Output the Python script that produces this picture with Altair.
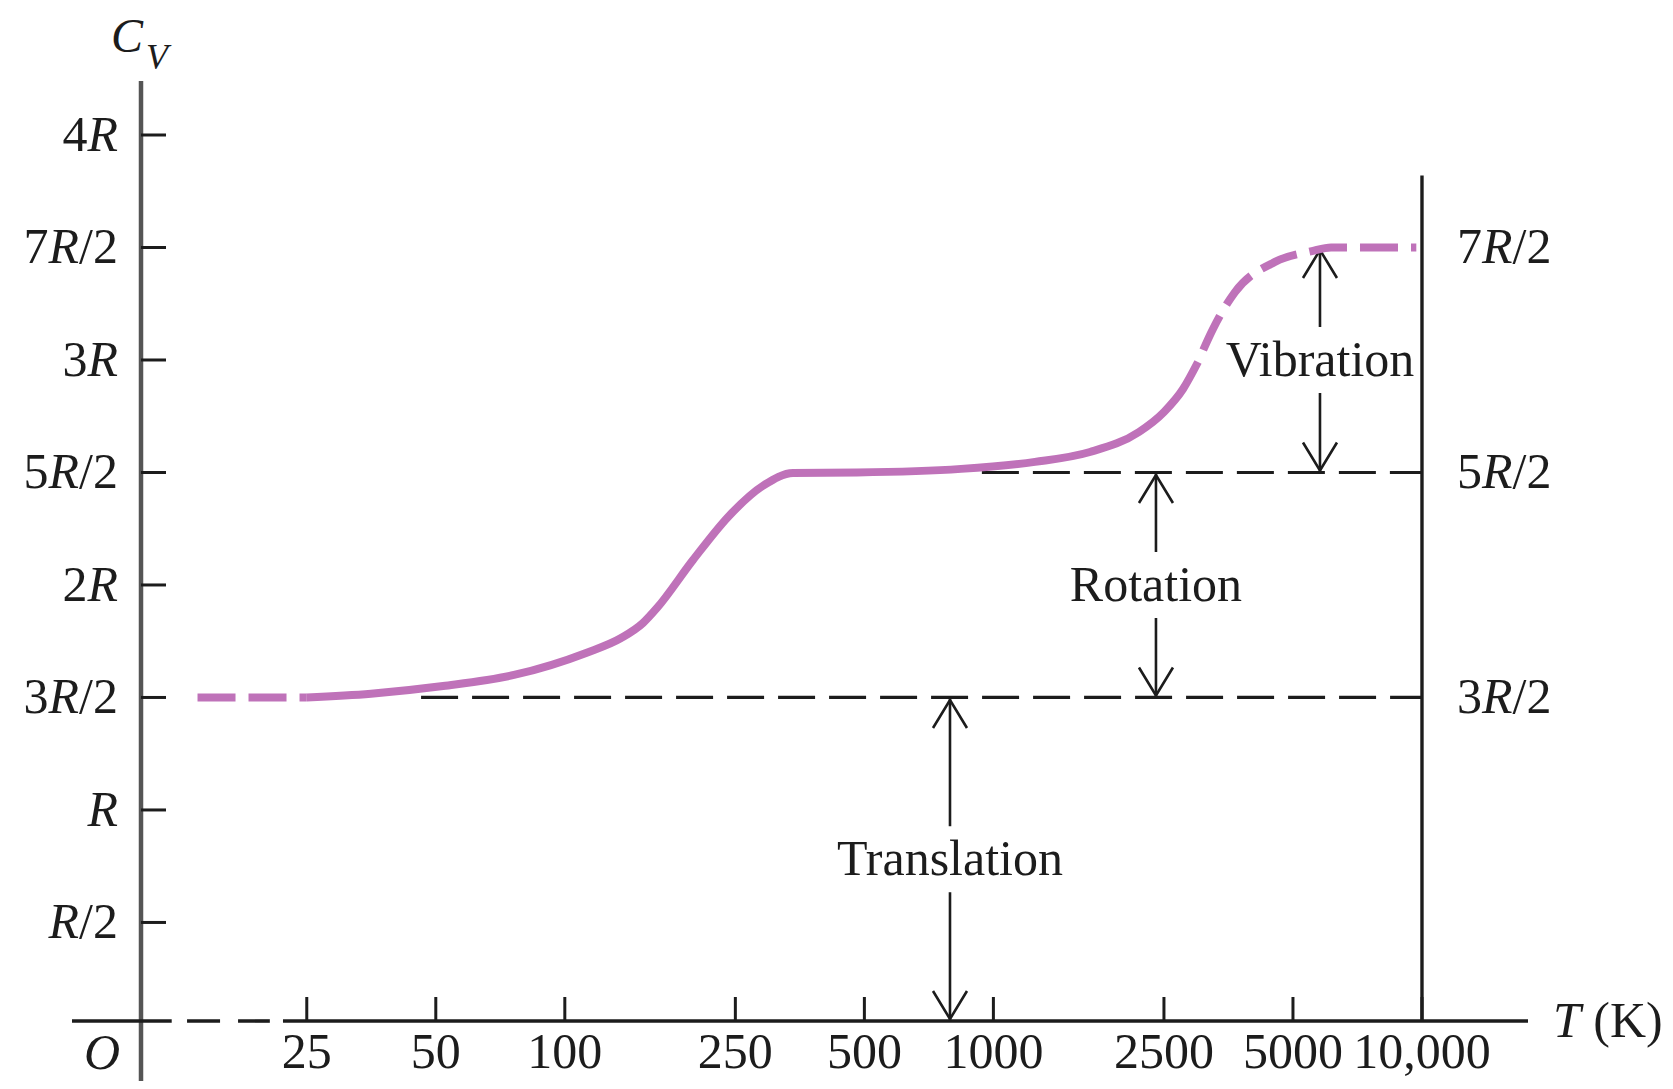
import altair as alt
import pandas as pd

# ---------------- data ----------------
# Heat capacity curve C_V (in units of R) vs temperature T (K)
T_LOW = [13.9, 25.0]                      # dashed extrapolation, low T
CV_LOW = [1.5, 1.5]
T_MID = [25.0, 35.3, 52.0, 76.1, 112.1, 135.3, 152.2, 164.1, 199.1, 241.6,
         291.6, 340.8, 480.6, 840.4, 1250.0, 1680.0, 2186.0, 2501.0, 2770.0, 3002.0]
CV_MID = [1.5, 1.517, 1.551, 1.6, 1.698, 1.764, 1.831, 1.898, 2.111, 2.307,
          2.444, 2.498, 2.5, 2.516, 2.547, 2.591, 2.68, 2.769, 2.871, 2.991]
T_HIGH = [3002.0, 3253.0, 3662.0, 4540.0, 5538.0, 6135.0, 9700.0]   # dashed, high T
CV_HIGH = [2.991, 3.138, 3.302, 3.436, 3.484, 3.5, 3.5]

X_TICKS = [25, 50, 100, 250, 500, 1000, 2500, 5000, 10000]
X_TICK_LABELS = ["25", "50", "100", "250", "500", "1000", "2500", "5000", "10,000"]
Y_TICKS = [0.5, 1.0, 1.5, 2.0, 2.5, 3.0, 3.5, 4.0]
Y_TICK_LABELS = ["R/2", "R", "3R/2", "2R", "5R/2", "3R", "7R/2", "4R"]
RIGHT_TICKS = [1.5, 2.5, 3.5]
RIGHT_TICK_LABELS = ["3R/2", "5R/2", "7R/2"]

REF_LEVELS = [1.5, 2.5]
REF_FROM_T = [46.2, 940.0]
REF_TO_T = [10000, 10000]

ARROW_LABELS = ["Translation", "Rotation", "Vibration"]
ARROW_T = [792, 2395, 5781]
ARROW_LO = [0.062, 1.5, 2.5]
ARROW_HI = [1.5, 2.5, 3.5]

T_MIN, T_MAX = 10.26, 17675       # extent of the temperature axis
CV_MIN, CV_MAX = 0.062, 4.24      # x-axis sits at CV_MIN
RIGHT_AXIS_T = 10000
RIGHT_AXIS_TOP = 3.82
BREAK_T = [12.1, 13.14, 20.5, 22.0]   # axis break: solid end, dash start, dash end, solid start

# ---------------- style / layout ----------------
INK = "#1c1c1c"
AXIS_GRAY = "#555555"
PURPLE = "#bf72b9"
FONT = "Liberation Serif"
FS = 50
W, H = 1387, 940
PAD = {"left": 133, "top": 73, "right": 137, "bottom": 60}

xscale = alt.Scale(type="log", domain=[T_MIN, T_MAX], nice=False)
yscale = alt.Scale(domain=[CV_MIN, CV_MAX], nice=False, zero=False)


def X(f):
    return alt.X(f"{f}:Q", scale=xscale, axis=None)


def X2(f):
    return alt.X2(f"{f}:Q")


def Y(f):
    return alt.Y(f"{f}:Q", scale=yscale, axis=None)


def Y2(f):
    return alt.Y2(f"{f}:Q")


# ---------------- curve ----------------
line_kw = dict(color=PURPLE, strokeWidth=8, interpolate="monotone", strokeCap="butt")
curve_low = alt.Chart(pd.DataFrame({"T": T_LOW, "cv": CV_LOW})).mark_line(
    strokeDash=[38, 13], **line_kw).encode(x=X("T"), y=Y("cv"))
curve_mid = alt.Chart(pd.DataFrame({"T": T_MID, "cv": CV_MID})).mark_line(
    **line_kw).encode(x=X("T"), y=Y("cv"))
curve_high = alt.Chart(pd.DataFrame({"T": T_HIGH, "cv": CV_HIGH})).mark_line(
    strokeDash=[38, 13], strokeDashOffset=38, **line_kw).encode(x=X("T"), y=Y("cv"))

# ---------------- reference dashed lines ----------------
ref_df = pd.DataFrame({"lvl": REF_LEVELS, "t0": REF_FROM_T, "t1": REF_TO_T})
refs = alt.Chart(ref_df).mark_rule(color=INK, strokeWidth=3.2, strokeDash=[37, 14]).encode(
    x=X("t0"), x2=X2("t1"), y=Y("lvl"))

# ---------------- axes ----------------
one = pd.DataFrame({"k": [0]})
left_axis = alt.Chart(one).mark_rule(color=AXIS_GRAY, strokeWidth=4.5).encode(
    x=alt.value(0), y=alt.value(0), y2=alt.value(H + PAD["bottom"]))
left_ticks = alt.Chart(pd.DataFrame({"v": Y_TICKS})).mark_rule(color=INK, strokeWidth=3).encode(
    y=Y("v"), x=alt.value(0), x2=alt.value(25))

xa_left = alt.Chart(pd.DataFrame({"t0": [T_MIN], "t1": [BREAK_T[0]]})).mark_rule(
    color=INK, strokeWidth=3.6, xOffset=-69).encode(x=X("t0"), x2=X2("t1"), y=alt.value(H))
xa_dash = alt.Chart(pd.DataFrame({"t0": [BREAK_T[1]], "t1": [BREAK_T[2]]})).mark_rule(
    color=INK, strokeWidth=3.6, strokeDash=[33, 18]).encode(x=X("t0"), x2=X2("t1"), y=alt.value(H))
xa_right = alt.Chart(pd.DataFrame({"t0": [BREAK_T[3]], "t1": [T_MAX]})).mark_rule(
    color=INK, strokeWidth=3.6).encode(x=X("t0"), x2=X2("t1"), y=alt.value(H))
x_ticks = alt.Chart(pd.DataFrame({"t": X_TICKS})).mark_rule(color=INK, strokeWidth=3).encode(
    x=X("t"), y=alt.value(H), y2=alt.value(H - 24))
right_axis = alt.Chart(pd.DataFrame({"t": [RIGHT_AXIS_T], "top": [RIGHT_AXIS_TOP], "bot": [CV_MIN]})).mark_rule(
    color=INK, strokeWidth=3.4).encode(x=X("t"), y=Y("top"), y2=Y2("bot"))

# ---------------- arrows ----------------
arr_df = pd.DataFrame({"label": ARROW_LABELS, "t": ARROW_T, "lo": ARROW_LO, "hi": ARROW_HI})
arr_df["mid"] = (arr_df["lo"] + arr_df["hi"]) / 2
GAP = 33
up_line = alt.Chart(arr_df).mark_rule(color=INK, strokeWidth=2.6, y2Offset=-GAP).encode(
    x=X("t"), y=Y("hi"), y2=Y2("mid"))
down_line = alt.Chart(arr_df).mark_rule(color=INK, strokeWidth=2.6, yOffset=GAP).encode(
    x=X("t"), y=Y("mid"), y2=Y2("lo"))
UP_HEAD = "M -0.607 1 L 0 0 L 0.607 1"
DOWN_HEAD = "M -0.607 -1 L 0 0 L 0.607 -1"
head_kw = dict(filled=False, color=INK, strokeWidth=2.6, opacity=1, size=3136)
up_head = alt.Chart(arr_df).mark_point(shape=UP_HEAD, yOffset=2.5, **head_kw).encode(x=X("t"), y=Y("hi"))
down_head = alt.Chart(arr_df).mark_point(shape=DOWN_HEAD, yOffset=-2, **head_kw).encode(x=X("t"), y=Y("lo"))
arrow_text = alt.Chart(arr_df).mark_text(
    font=FONT, fontSize=FS, color=INK, align="center", baseline="alphabetic", dy=16).encode(
    x=X("t"), y=Y("mid"), text="label:N")

# ---------------- mixed italic / upright labels ----------------
UP_W = {**{d: 0.5 for d in "0123456789"}, "/": 0.278, ",": 0.25, "(": 0.333, ")": 0.333,
        "K": 0.722, " ": 0.25}
IT_W = {"R": 0.611, "T": 0.556, "O": 0.722, "C": 0.667, "V": 0.611}
ITALIC = set(IT_W)


def split_parts(s):
    parts = []
    for ch in s:
        kind = "sp" if ch == " " else ("it" if ch in ITALIC else "up")
        if parts and parts[-1][1] == kind:
            parts[-1][0] += ch
        else:
            parts.append([ch, kind])
    return parts


def text_width(text, kind, size):
    table = IT_W if kind == "it" else UP_W
    return sum(table.get(c, 0.5) for c in text) * size


def label_layers(labels, xs=None, ys=None, xpx=0, ypx=0, align="left", dx=0, dy=0, size=FS):
    rows = []
    for i, lab in enumerate(labels):
        parts = split_parts(lab)
        ws = [text_width(t, k, size) for t, k in parts]
        total = sum(ws)
        acc = {"left": 0.0, "center": -total / 2, "right": -total}[align]
        for (t, k), w in zip(parts, ws):
            if k != "sp":
                row = {"text": t, "kind": k, "off": round(dx + acc, 2)}
                if xs is not None:
                    row["x"] = xs[i]
                if ys is not None:
                    row["y"] = ys[i]
                rows.append(row)
            acc += w
    df = pd.DataFrame(rows)
    layers = []
    for (k, off), g in df.groupby(["kind", "off"], sort=False):
        enc = {"text": "text:N",
               "x": X("x") if xs is not None else alt.value(xpx),
               "y": Y("y") if ys is not None else alt.value(ypx)}
        layers.append(
            alt.Chart(g.reset_index(drop=True)).mark_text(
                align="left", baseline="alphabetic", dx=float(off), dy=dy, font=FONT,
                fontSize=size, fontStyle="italic" if k == "it" else "normal", color=INK
            ).encode(**enc))
    return layers


text_layers = []
text_layers += label_layers(Y_TICK_LABELS, ys=Y_TICKS, xpx=-23, align="right", dy=16)
text_layers += label_layers(RIGHT_TICK_LABELS, xs=[RIGHT_AXIS_T] * len(RIGHT_TICKS), ys=RIGHT_TICKS,
                            align="left", dx=35, dy=16)
text_layers += label_layers(X_TICK_LABELS, xs=X_TICKS, ys=[CV_MIN] * len(X_TICKS), align="center", dy=47)
text_layers += label_layers(["O"], ys=[CV_MIN], xpx=-21, align="right", dy=48)
text_layers += label_layers(["T (K)"], xs=[T_MAX], ys=[CV_MIN], align="left", dx=25, dy=16)
text_layers += label_layers(["C"], xpx=-30, ypx=-29, size=48)
text_layers += label_layers(["V"], xpx=5, ypx=-12, size=36)

chart = alt.layer(
    refs, left_axis, left_ticks, xa_left, xa_dash, xa_right, x_ticks, right_axis,
    up_line, down_line, up_head, down_head,
    curve_low, curve_mid, curve_high,
    arrow_text, *text_layers
).properties(
    width=W, height=H, padding=PAD, autosize=alt.AutoSizeParams(type="none"),
    background="white"
).configure_view(strokeWidth=0)

chart.save("out.html", embed_options={"renderer": "svg", "actions": False})
